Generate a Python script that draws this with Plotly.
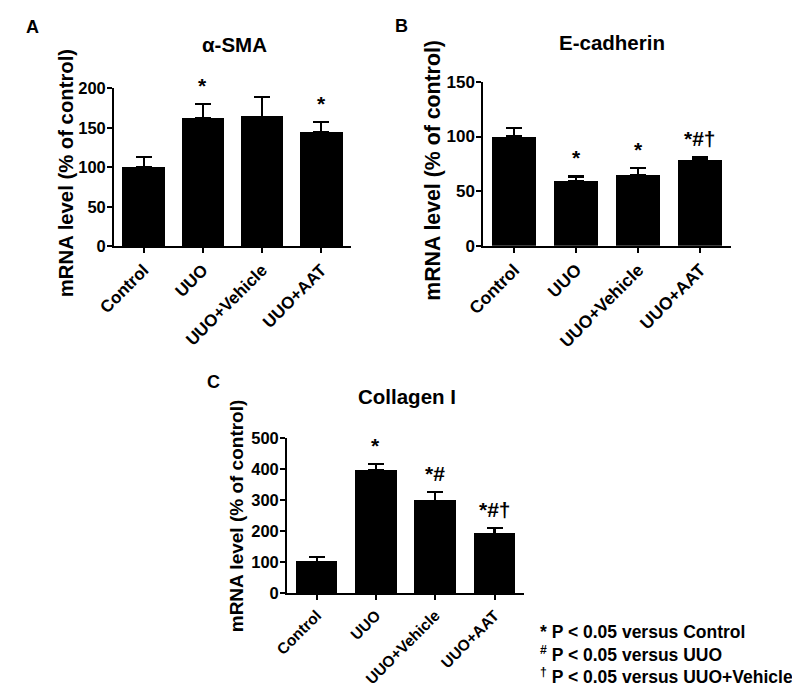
import plotly.graph_objects as go

categories = ["Control", "UUO", "UUO+Vehicle", "UUO+AAT"]

sma_mean = [100, 162, 164, 144]
sma_sem = [13, 18, 25, 13]
sma_sig = ["", "*", "", "*"]

ecad_mean = [100, 59, 65, 79]
ecad_sem = [7.5, 4.5, 6.5, 2]
ecad_sig = ["", "*", "*", "*#†"]

col_mean = [102, 398, 299, 192]
col_sem = [15, 19, 27, 19]
col_sig = ["", "*", "*#", "*#†"]

sma_ticks = [0, 50, 100, 150, 200]
ecad_ticks = [0, 50, 100, 150]
col_ticks = [0, 100, 200, 300, 400, 500]

footnotes = ["* P < 0.05 versus Control",
             "<sup>#</sup> P < 0.05 versus UUO",
             "<sup>†</sup> P < 0.05 versus UUO+Vehicle"]

W, H = 800, 689
FONT = "Liberation Sans, Arial, sans-serif"


def px(x):
    return x / W


def py(y):
    return 1 - y / H


fig = go.Figure()

panels = [
    dict(mean=sma_mean, sem=sma_sem, sig=sma_sig, ticks=sma_ticks, title="α-SMA",
         xd=(91, 333), yd=(236, 73.3), width=0.72, fs=16.5, xfs=17, xa="x", ya="y",
         letter="A", lpos=(8, 10), tpos=(214, 28), ypos=(42, 160.5), yfs=20.3),
    dict(mean=ecad_mean, sem=ecad_sem, sig=ecad_sig, ticks=ecad_ticks, title="E-cadherin",
         xd=(468.3, 721.7), yd=(235.3, 66.7), width=0.70, fs=17, xfs=17.5, xa="x2", ya="y2",
         letter="B", lpos=(385, 9), tpos=(600, 26), ypos=(417, 158), yfs=21.3),
    dict(mean=col_mean, sem=col_sem, sig=col_sig, ticks=col_ticks, title="Collagen I",
         xd=(267.8, 510), yd=(592.7, 433.3), width=0.70, fs=16.5, xfs=15.5, xa="x3", ya="y3",
         letter="C", lpos=(193, 375), tpos=(390, 390), ypos=(216, 513), yfs=19),
]

annotations = []
for i, p in enumerate(panels):
    fig.add_trace(go.Bar(
        x=categories, y=p["mean"], xaxis=p["xa"], yaxis=p["ya"],
        marker=dict(color="black", line=dict(width=0)), width=p["width"],
        error_y=dict(type="data", array=p["sem"], arrayminus=[0] * 4, symmetric=False,
                     color="black", thickness=2.2, width=8),
        showlegend=False, hoverinfo="skip"))
    sfx = "" if i == 0 else str(i + 1)
    axis_common = dict(showline=True, linecolor="black", linewidth=2, ticks="outside",
                       tickcolor="black", tickwidth=2, showgrid=False, zeroline=False)
    fig.layout["xaxis" + sfx] = dict(
        domain=[px(p["xd"][0]), px(p["xd"][1])], anchor="y" + sfx,
        range=[-0.5, 3.5], ticklen=5, tickangle=-45, type="category",
        tickfont=dict(family=FONT, size=p["xfs"], color="black", weight="bold"),
        **axis_common)
    fig.layout["yaxis" + sfx] = dict(
        domain=[py(p["yd"][0]), py(p["yd"][1])], anchor="x" + sfx,
        range=[0, p["ticks"][-1]], tickvals=p["ticks"], ticklen=5,
        tickfont=dict(family=FONT, size=p["fs"], color="black", weight="bold"),
        **axis_common)
    try:
        fig.layout["yaxis" + sfx].ticklabelstandoff = -2
    except Exception:
        pass
    # significance marks
    for c, m, s, g in zip(categories, p["mean"], p["sem"], p["sig"]):
        if g:
            annotations.append(dict(x=c, y=m + s, xref=p["xa"], yref=p["ya"], text=g,
                                    showarrow=False, yanchor="bottom", yshift=5,
                                    font=dict(family=FONT, size=21, color="black",
                                              weight="bold")))
    annotations.append(dict(x=px(p["tpos"][0]), y=py(p["tpos"][1]), xref="paper", yref="paper",
                            text=p["title"], showarrow=False, xanchor="center", yanchor="middle",
                            font=dict(family=FONT, size=20.5, color="black",
                                      weight="bold")))
    annotations.append(dict(x=px(p["lpos"][0]), y=py(p["lpos"][1]), xref="paper", yref="paper",
                            text=p["letter"], showarrow=False, xanchor="center", yanchor="middle",
                            font=dict(family=FONT, size=18, color="black", weight="bold")))
    annotations.append(dict(x=px(p["ypos"][0]), y=py(p["ypos"][1]), xref="paper", yref="paper",
                            text="mRNA level (% of control)", textangle=-90, showarrow=False,
                            xanchor="center", yanchor="middle",
                            font=dict(family=FONT, size=p["yfs"], color="black", weight="bold")))

for k, t in enumerate(footnotes):
    annotations.append(dict(x=px(524), y=py(632 + 23 * k), xref="paper", yref="paper",
                            text=t, showarrow=False, xanchor="left", yanchor="middle",
                            font=dict(family=FONT, size=17.5, color="black", weight="bold")))

fig.update_layout(width=W, height=H, margin=dict(l=0, r=0, t=0, b=0),
                  paper_bgcolor="white", plot_bgcolor="white",
                  annotations=annotations, bargap=0)

fig.write_html("out.html")
